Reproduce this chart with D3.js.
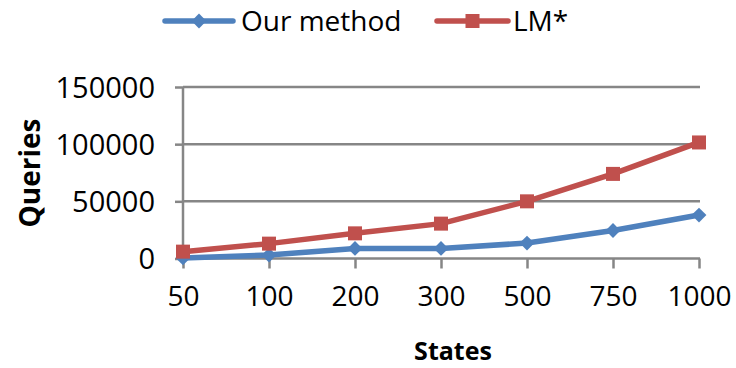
<!DOCTYPE html>
<html><head><meta charset="utf-8">
<script src="https://cdn.jsdelivr.net/npm/d3@7"></script>
<style>body{margin:0;background:#fff}svg{display:block}text{font-family:"Open Sans",sans-serif}</style>
</head><body><svg id="c" width="736" height="368"></svg>
<script>
const categories = ["50","100","200","300","500","750","1000"];
const ourMethod = [500, 3000, 8800, 8800, 13500, 24500, 38000];
const lmStar = [6000, 13000, 22000, 30500, 50000, 74000, 101500];
const yTicks = [0, 50000, 100000, 150000];
const seriesNames = ["Our method", "LM*"];
const colors = ["#4f81bd", "#c0504d"];

const svg = d3.select("#c");
const x = d3.scalePoint().domain(categories).range([183, 699]);
const y = d3.scaleLinear().domain([0, 150000]).range([258.5, 87]);
const grey = "#868686";

// gridlines
svg.append("g").selectAll("line").data(yTicks.filter(d=>d>0)).join("line")
  .attr("x1", 183).attr("x2", 700).attr("y1", d=>y(d)).attr("y2", d=>y(d))
  .attr("stroke", grey).attr("stroke-width", 2.5);

// y axis
const yAxis = svg.append("g").attr("transform","translate(183,0)")
  .call(d3.axisLeft(y).tickValues(yTicks).tickSize(8).tickPadding(20).tickFormat(d3.format("d")));
yAxis.select(".domain").attr("stroke", grey).attr("stroke-width", 2.5).attr("d","M0,87V259");
yAxis.selectAll(".tick line").attr("stroke", grey).attr("stroke-width", 2.5);
yAxis.selectAll(".tick text").attr("font-size", 29).attr("fill","#000").attr("dy","0.36em")
  .attr("font-family","'Open Sans',sans-serif");

// x axis
const xAxis = svg.append("g").attr("transform", `translate(0,${y(0)})`)
  .call(d3.axisBottom(x).tickSize(10).tickPadding(18));
xAxis.select(".domain").attr("stroke", grey).attr("stroke-width", 2.5).attr("d","M182,0H700");
xAxis.selectAll(".tick line").attr("stroke", grey).attr("stroke-width", 2.5);
xAxis.selectAll(".tick text").attr("font-size", 28).attr("fill","#000")
  .attr("font-family","'Open Sans',sans-serif");

// lines
const line = d3.line().x((d,i)=>x(categories[i])).y(d=>y(d));
const data = [ourMethod, lmStar];
data.forEach((s, k) => {
  svg.append("path").datum(s).attr("d", line).attr("fill","none")
    .attr("stroke", colors[k]).attr("stroke-width", 5.5).attr("stroke-linejoin","round");
});
const diamond = d3.symbol().type(d3.symbolDiamond2).size(140);
svg.append("g").selectAll("path").data(ourMethod).join("path")
  .attr("transform",(d,i)=>`translate(${x(categories[i])},${y(d)})`)
  .attr("d", diamond()).attr("fill", colors[0]);
svg.append("g").selectAll("rect").data(lmStar).join("rect")
  .attr("x",(d,i)=>x(categories[i])-7).attr("y",d=>y(d)-7)
  .attr("width",14).attr("height",14).attr("fill", colors[1]);

// legend
const leg = [{x1:165,x2:233,tx:241},{x1:437,x2:508,tx:513}];
leg.forEach((l,k)=>{
  svg.append("line").attr("x1",l.x1).attr("x2",l.x2).attr("y1",21).attr("y2",21)
    .attr("stroke",colors[k]).attr("stroke-width",5.5).attr("stroke-linecap","round");
  const cx=(l.x1+l.x2)/2;
  if(k===0) svg.append("path").attr("transform",`translate(${cx},21)`).attr("d",diamond()).attr("fill",colors[0]);
  else svg.append("rect").attr("x",cx-7).attr("y",14).attr("width",14).attr("height",14).attr("fill",colors[1]);
  svg.append("text").attr("x",l.tx).attr("y",21).attr("dy","0.36em").attr("font-size",28).text(seriesNames[k]);
});

// axis titles
svg.append("text").attr("transform","translate(30,173) rotate(-90)").attr("text-anchor","middle")
  .attr("dy","0.36em").attr("font-size",28).attr("font-weight","bold").text("Queries");
svg.append("text").attr("x",453).attr("y",351).attr("text-anchor","middle")
  .attr("dy","0.36em").attr("font-size",25).attr("font-weight","bold").text("States");
</script></body></html>
